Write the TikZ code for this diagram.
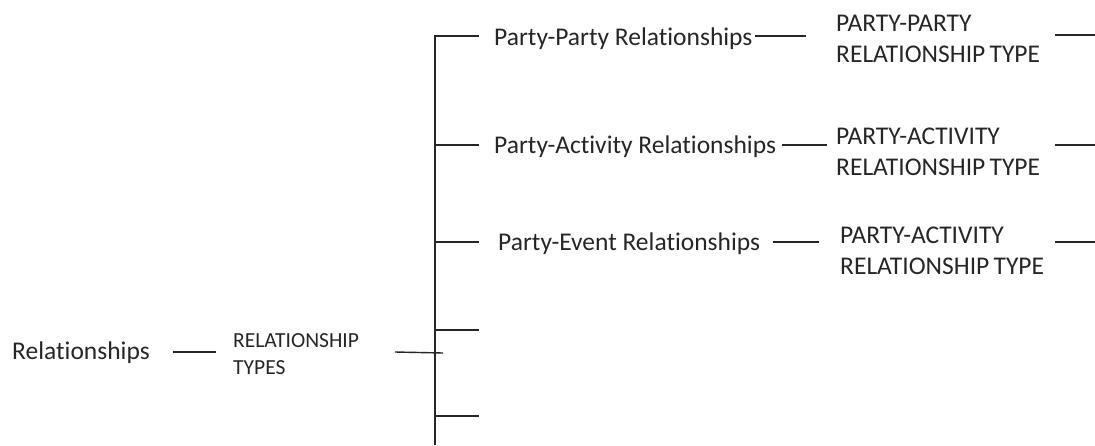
\documentclass[tikz,border=0pt]{standalone}
\usepackage{fontspec}
\setmainfont{Carlito}[Ligatures=NoCommon]
\begin{document}
\begin{tikzpicture}[x=1pt,y=-1pt,
  lbl/.style={inner sep=0pt, text=black!85, font=\fontsize{25.5}{31}\selectfont},
  sml/.style={inner sep=0pt, text=black!85, font=\fontsize{21.5}{27}\selectfont, align=left},
  blk/.style={inner sep=0pt, text=black!85, font=\fontsize{25.5}{31}\selectfont, align=left},
  ln/.style={line width=1.4pt, draw=black!85}]
\useasboundingbox (0,0) rectangle (1095,445);
% text nodes
\node[lbl,anchor=base west] (rel) at (12,359) {Relationships};
\node[sml,anchor=north west] (rt) at (233,333) {RELATIONSHIP\\TYPES};
\node[lbl,anchor=base west] (pp) at (494,45) {Party-Party Relationships};
\node[lbl,anchor=base west] (pa) at (494,153) {Party-Activity Relationships};
\node[lbl,anchor=base west] (pe) at (498,250) {Party-Event Relationships};
\node[blk,anchor=north west] (ppt) at (836,15) {PARTY-PARTY\\RELATIONSHIP\,TYPE};
\node[blk,anchor=north west] (pat) at (836,128) {PARTY-ACTIVITY\\RELATIONSHIP\,TYPE};
\node[blk,anchor=north west] (pet) at (840,227) {PARTY-ACTIVITY\\RELATIONSHIP\,TYPE};
% coordinates
\coordinate (t1) at (435,36);
\coordinate (t2) at (435,145);
\coordinate (t3) at (435,242);
\coordinate (t4) at (435,330);
\coordinate (t5) at (435,416);
\coordinate (tb) at (435,445);
\coordinate (e1) at (479,36);
\coordinate (e2) at (479,145);
\coordinate (e3) at (479,242);
\coordinate (e4) at (479,330);
\coordinate (e5) at (479,416);
\coordinate (m1a) at (755,36);  \coordinate (m1b) at (806,36);
\coordinate (m2a) at (782,145); \coordinate (m2b) at (827,145);
\coordinate (m3a) at (773,242); \coordinate (m3b) at (819,242);
\coordinate (r1a) at (1055,35);  \coordinate (r1b) at (1095,35);
\coordinate (r2a) at (1055,145); \coordinate (r2b) at (1095,145);
\coordinate (r3a) at (1055,242); \coordinate (r3b) at (1095,242);
\coordinate (ra) at (173,352); \coordinate (rb) at (216,352);
\coordinate (sa) at (395,352); \coordinate (sb) at (443,353);
% connectors
\draw[ln] (tb) -- (t1) -- (e1);
\draw[ln] (t2) -- (e2);
\draw[ln] (t3) -- (e3);
\draw[ln] (t4) -- (e4);
\draw[ln] (t5) -- (e5);
\draw[ln] (ra) -- (rb);
\draw[ln] (sa) -- (sb);
\draw[ln] (m1a) -- (m1b);
\draw[ln] (m2a) -- (m2b);
\draw[ln] (m3a) -- (m3b);
\draw[ln] (r1a) -- (r1b);
\draw[ln] (r2a) -- (r2b);
\draw[ln] (r3a) -- (r3b);
\end{tikzpicture}
\end{document}
